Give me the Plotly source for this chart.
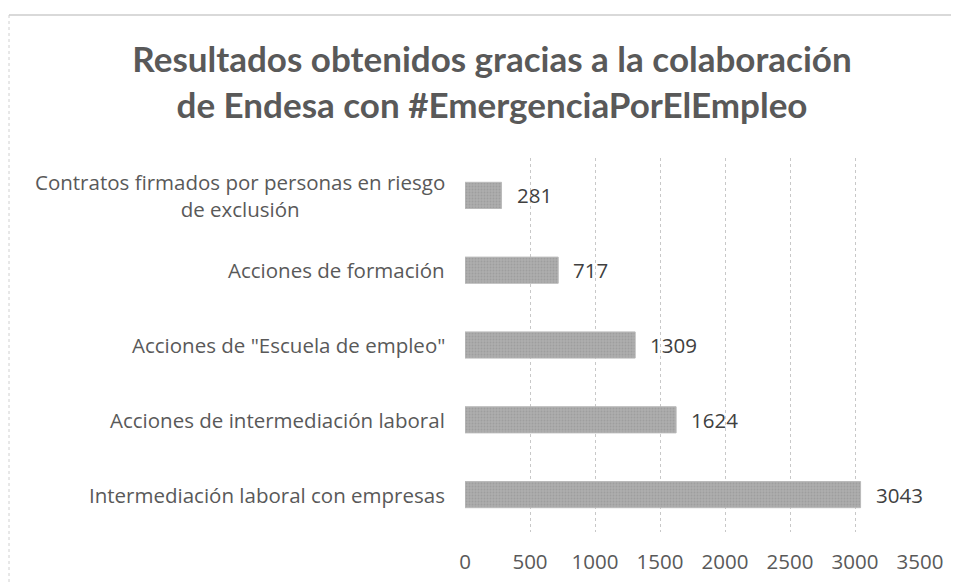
import plotly.graph_objects as go

categories = [
    "Intermediación laboral con empresas",
    "Acciones de intermediación laboral",
    "Acciones de \"Escuela de empleo\"",
    "Acciones de formación",
    "Contratos firmados por personas en riesgo<br>de exclusión",
]
values = [3043, 1624, 1309, 717, 281]
x_ticks = [0, 500, 1000, 1500, 2000, 2500, 3000, 3500]
title_text = "Resultados obtenidos gracias a la colaboración<br>de Endesa con #EmergenciaPorElEmpleo"

# page body has an 8px default margin; figure coordinates are offset by it
OFF = 8
W, H = 951, 575
L, R, T, B = 465 - OFF, 39, 158 - OFF, 51
pw, ph = W - L - R, H - T - B
LABEL_FONT = "Open Sans"
LS = 20.5

fig = go.Figure()
fig.add_trace(go.Bar(
    y=categories, x=values, orientation="h",
    marker=dict(color="#a8a8a8", line=dict(color="#bababa", width=1),
                pattern=dict(shape=".", fgcolor="#909090", bgcolor="#adadad", size=3, solidity=0.3)),
    hoverinfo="skip",
))

annotations = []
for c, v in zip(categories, values):
    annotations.append(dict(x=v, y=c, xref="x", yref="y", text=str(v), showarrow=False,
                            xanchor="left", xshift=13, font=dict(family=LABEL_FONT, size=LS, color="#404040")))
    annotations.append(dict(x=0, y=c, xref="paper", yref="y", text=c, showarrow=False,
                            xanchor="right", xshift=-18, align="center",
                            font=dict(family=LABEL_FONT, size=LS, color="#595959")))

bx, by = 9 - OFF, 15 - OFF
shapes = [
    dict(type="line", xref="paper", yref="paper", x0=(bx - L) / pw, x1=(W + 10 - L) / pw,
         y0=1 + (T - by) / ph, y1=1 + (T - by) / ph, line=dict(color="#d9d9d9", width=2)),
    dict(type="line", xref="paper", yref="paper", x0=(bx - L) / pw, x1=(bx - L) / pw,
         y0=1 + (T - by) / ph, y1=-B / ph - 0.02, line=dict(color="#d0d0d0", width=1, dash="dot")),
]

fig.update_layout(
    width=W, height=H,
    margin=dict(l=L, r=R, t=T, b=B, autoexpand=False),
    paper_bgcolor="white", plot_bgcolor="white",
    title=dict(text=title_text, x=(492 - OFF) / W, xref="container", xanchor="center",
               y=1 - 64 / H, yref="container", yanchor="top",
               font=dict(family="Lato", size=35, color="#595959", weight="bold")),
    bargap=0.65,
    showlegend=False,
    annotations=annotations,
    shapes=shapes,
    xaxis=dict(range=[0, 3500], tickvals=x_ticks, ticktext=[str(t) for t in x_ticks],
               showgrid=True, gridcolor="#c8c8c8", griddash="dot", gridwidth=1,
               zeroline=False, showline=False, ticks="", ticklabelstandoff=15,
               tickfont=dict(family=LABEL_FONT, size=LS, color="#595959")),
    yaxis=dict(showticklabels=False, showgrid=False, zeroline=False, showline=False, ticks=""),
)

fig.write_html("out.html")
